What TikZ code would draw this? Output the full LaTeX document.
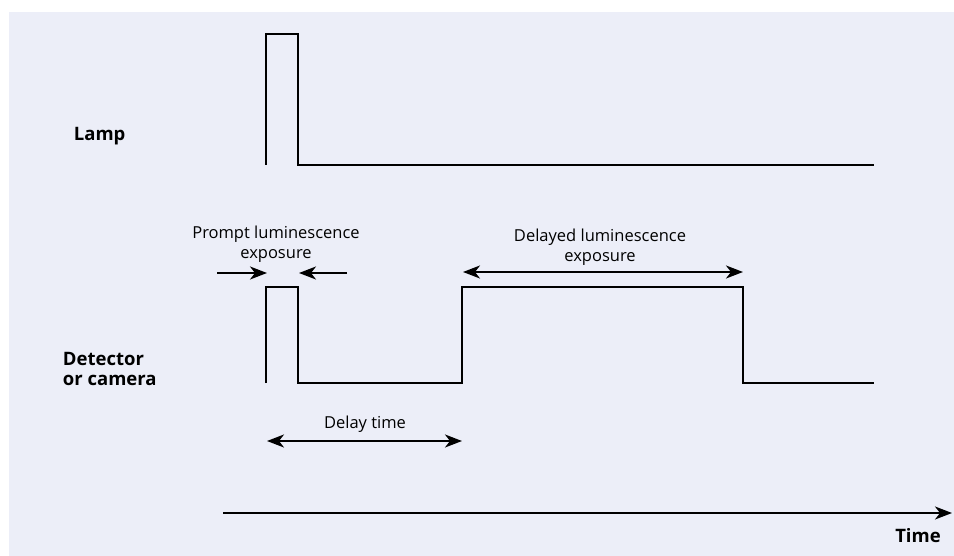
\documentclass[tikz,border=0pt]{standalone}
\usepackage{fontspec}
\setmainfont{Open Sans}
\usetikzlibrary{arrows.meta,positioning}
\definecolor{panelgray}{RGB}{236,238,248}

\begin{document}
\begin{tikzpicture}[x=1pt,y=1pt,yscale=-1,xscale=1,
    sig/.style={line width=1.5pt},
    tip/.tip={Stealth[length=17pt,width=13pt,inset=5pt]},
    span/.style={line width=1.8pt,tip-tip},
    push/.style={line width=1.8pt,-tip},
    lbl/.style={inner sep=0.75pt,font=\fontsize{16.5}{20}\selectfont,align=center},
    rowname/.style={inner sep=0.75pt,font=\fontsize{18.5}{20}\selectfont\bfseries,align=left}]
\useasboundingbox (0,0) rectangle (954,556);
% background panel
\fill[panelgray] (9,12) rectangle (954,556);

% Lamp trace
\coordinate (lampstart) at (266,165);
\coordinate (lampend) at (874,165);
\draw[sig] (lampstart) -- (266,34) -- (298,34) -- (298,165) -- (lampend);

% Detector trace
\coordinate (detstart) at (266,383);
\coordinate (gateopen) at (462,287);
\coordinate (gateclose) at (743,287);
\coordinate (detend) at (874,383);
\draw[sig] (detstart) -- (266,287) -- (298,287) -- (298,383) -- (462,383)
    -- (gateopen) -- (gateclose) -- (743,383) -- (detend);

% Straight Lines (arrows)
\coordinate (promptL0) at (217,273);
\coordinate (promptL1) at (267,273);
\coordinate (promptR0) at (347,273);
\coordinate (promptR1) at (299,273);
\draw[push] (promptL0) -- (promptL1);
\draw[push] (promptR0) -- (promptR1);

\coordinate (delayedA) at (463,272);
\coordinate (delayedB) at (743,272);
\draw[span] (delayedA) -- (delayedB);

\coordinate (delayA) at (267,441);
\coordinate (delayB) at (462,441);
\draw[span] (delayA) -- (delayB);

\coordinate (axisA) at (223,513);
\coordinate (axisB) at (952,513);
\draw[push] (axisA) -- (axisB);

% Text Node
\node (lamp) [rowname, anchor=west] at (73,136) {Lamp};
% Text Node
\node (detector) [rowname, anchor=west] at (62,369) {Detector\\or camera};
% Text Node
\node (prompt) [lbl] at (276,244) {Prompt luminescence\\exposure};
% Text Node
\node (delayed) [lbl] at (600,247) {Delayed luminescence\\exposure};
% Text Node
\node (delay) [lbl] at (365,424) {Delay time};
% Text Node
\node (time) [rowname] at (918,536) {Time};
\end{tikzpicture}
\end{document}
